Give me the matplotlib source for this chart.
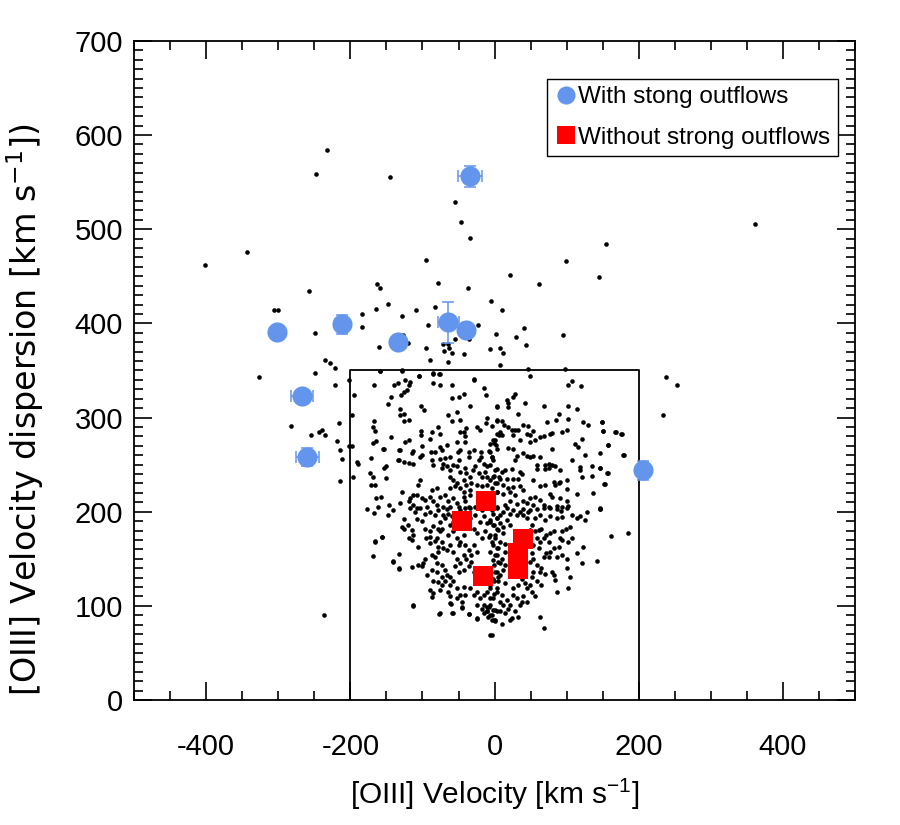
import numpy as np
import matplotlib
matplotlib.use("Agg")
import matplotlib.pyplot as plt
from matplotlib.ticker import MultipleLocator

plt.rcParams['font.family'] = ['Liberation Sans', 'DejaVu Sans']
plt.rcParams['mathtext.default'] = 'regular'
plt.rcParams['axes.unicode_minus'] = False

# galaxies with strong outflows (velocity, dispersion, errors)
strong_v = [-34, -302, -212, -134, -64, -39, -267, -260, 206]
strong_s = [556, 391, 399, 380, 401, 393, 323, 258, 244]
strong_verr = [17, 4, 10, 4, 14, 4, 15, 16, 4]
strong_serr = [11, 4, 10, 4, 22, 4, 5, 10, 10]

# galaxies without strong outflows
weak_v = [-12, -45, 40, 32, 32, -16]
weak_s = [211, 190, 171, 156, 139, 132]

# selection box
box_x = [-200, -200, 200, 200]
box_y = [0, 350, 350, 0]

# parent sample, outside / edge of the dense cloud
dots_outer = [
    (-232, 584), (-248, 559), (-145, 555), (-55, 529), (-46, 508), (-34, 491), (-343, 476),
    (-402, 462), (-95, 467), (-78, 443), (-163, 442), (-159, 438), (-258, 434), (-37, 438),
    (-148, 421), (-165, 415), (-109, 414), (-83, 417), (-306, 414), (-300, 414), (-184, 410),
    (-128, 408), (-184, 396), (-92, 398), (-249, 390), (-23, 398), (-127, 388), (-120, 379),
    (-160, 375), (-95, 374), (-71, 378), (-65, 378), (-70, 371), (-63, 374), (-59, 369),
    (-55, 383), (-43, 367), (-35, 383), (-89, 361), (-64, 359), (-235, 361), (-228, 358),
    (-222, 353), (-327, 343), (-249, 347), (-159, 349), (-129, 350), (-105, 344), (-86, 347),
    (-77, 346), (-29, 341),
    (155, 484), (99, 466), (145, 449), (22, 451), (61, 442), (-5, 424), (11, 414), (2, 389),
    (41, 395), (30, 386), (43, 377), (95, 388), (-7, 373), (8, 374), (12, 369), (8, 356),
    (47, 351), (98, 351), (238, 343),
    (361, 505), (253, 335), (234, 303), (185, 177), (162, 174), (178, 260), (157, 241),
    (152, 229), (157, 271), (168, 285), (176, 283), (149, 295), (150, 286), (146, 246), (146, 203),
    (-221, 334), (-202, 340), (-195, 324), (-282, 291), (-254, 281), (-243, 285), (-240, 287),
    (-235, 281), (-216, 294), (-219, 275), (-214, 266), (-211, 256), (-214, 233), (-236, 90),
    (-202, 270), (-198, 270), (-198, 303), (-196, 237),
    (-167, 334), (-140, 335), (-134, 337), (-144, 322), (-148, 314), (-131, 303), (-167, 296),
    (-168, 290), (-166, 286), (-143, 279), (-168, 273), (-165, 275), (-155, 267), (-133, 265),
    (-134, 255), (-172, 257), (-191, 253), (-190, 251), (-151, 249), (-153, 246), (-173, 241),
    (-168, 237), (-150, 236), (-171, 228), (-166, 228), (-164, 214), (-158, 216), (-177, 203),
    (-167, 199), (-148, 197), (-141, 202), (-166, 168), (-156, 173), (-168, 153), (-141, 147),
    (-133, 155), (-132, 139),
    (-113, 100), (-77, 91), (-60, 102), (-58, 92), (-45, 98), (-36, 91), (-25, 86), (-6, 69),
    (-15, 92), (-11, 94), (-11, 99), (-2, 96), (4, 94), (-9, 88), (-4, 85), (1, 84),
]

# upper-left part of the cloud
dots_ul = [
    (-159, 349), (-129, 349), (-105, 344), (-86, 346), (-76, 346), (-124, 340), (-117, 338),
    (-119, 334), (-122, 329), (-125, 327), (-130, 324), (-85, 337), (-76, 334), (-59, 335),
    (-29, 340), (-14, 331), (-12, 324), (-42, 325), (-50, 322), (-59, 321), (-34, 312),
    (-102, 312), (-98, 308), (-131, 309), (-125, 304), (-126, 296), (-118, 297),
    (-87, 285), (-102, 286), (-102, 281), (-78, 290), (-89, 277), (-76, 282), (-52, 306),
    (-64, 303), (-48, 297), (-59, 296), (-43, 285), (-39, 289), (-48, 285), (-41, 280),
    (-41, 274), (-25, 290), (-20, 287), (-12, 294), (-10, 299), (3, 312), (4, 296), (0, 276),
    (2, 271), (-6, 272), (-8, 264), (-4, 258), (6, 281), (-154, 267), (-118, 276), (-124, 274),
    (-131, 266), (-113, 264), (-114, 262), (-101, 270), (-100, 260), (-103, 258), (-88, 263),
    (-82, 263), (-76, 269), (-73, 266), (-66, 271), (-52, 274), (-48, 266), (-51, 263),
    (-36, 263), (-36, 258), (-29, 266), (-19, 263), (-19, 258), (-22, 255), (-15, 251),
    (-10, 248), (-6, 250), (1, 244), (6, 237), (-132, 255), (-126, 253), (-119, 252),
    (-113, 251), (-103, 234), (-106, 228), (-87, 255), (-85, 250), (-75, 256), (-69, 257),
    (-62, 258), (-71, 251), (-66, 248), (-73, 246), (-62, 244), (-57, 250), (-50, 255),
    (-52, 248), (-48, 242), (-41, 246), (-39, 241), (-34, 237), (-30, 244), (-27, 248),
    (-22, 241), (-18, 237), (-13, 242), (-11, 237), (-6, 234), (-1, 238), (3, 230), (-62, 237),
    (-57, 234), (-52, 230), (-43, 234), (-39, 228), (-32, 230), (-25, 228), (-18, 227),
    (-11, 228), (-4, 225), (3, 221), (-48, 225), (-43, 221), (-34, 223), (-62, 225), (-55, 227),
    (-129, 221), (-117, 215), (-113, 218), (-108, 218), (-101, 214), (-96, 212), (-89, 216),
    (-85, 211), (-80, 225), (-87, 223), (-75, 216), (-69, 218), (-64, 211), (-57, 214),
    (-52, 209), (-43, 216), (-41, 211), (-36, 205), (-34, 218), (-131, 209), (-119, 211),
    (-113, 207), (-108, 204), (-94, 205), (-80, 207), (-71, 205), (-62, 205), (-50, 205),
    (-161, 205), (-147, 207),
]

# upper-right part of the cloud
dots_ur = [
    (49, 344), (107, 339), (102, 334), (120, 333), (28, 325), (25, 322), (17, 319), (18, 315),
    (18, 311), (4, 311), (42, 315), (68, 312), (102, 312), (115, 309), (90, 304), (32, 304),
    (85, 297), (102, 298), (123, 295), (130, 292), (149, 295), (73, 295), (4, 297), (11, 296),
    (13, 292), (-4, 291), (19, 290), (24, 287), (28, 287), (32, 287), (40, 292), (47, 291),
    (54, 286), (45, 283), (49, 281), (3, 283), (8, 285), (10, 281), (25, 281), (69, 280),
    (77, 283), (79, 284), (93, 285), (100, 287), (150, 286), (167, 285), (177, 283), (63, 279),
    (35, 276), (49, 274), (56, 276), (-2, 276), (-1, 273), (112, 272), (116, 269), (121, 277),
    (158, 271), (19, 268), (26, 267), (3, 267), (79, 267), (40, 262), (45, 259), (49, 258),
    (54, 259), (63, 258), (31, 259), (28, 255), (-6, 263), (-4, 258), (-2, 255), (107, 255),
    (126, 260), (146, 262), (179, 260), (59, 250), (70, 250), (75, 251), (79, 250), (84, 248),
    (59, 245), (70, 245), (75, 246), (91, 244), (119, 247), (119, 244), (135, 249), (146, 246),
    (122, 237), (135, 238), (156, 241), (3, 245), (10, 242), (15, 244), (24, 245), (35, 242),
    (38, 240), (-2, 237), (8, 235), (17, 235), (26, 235), (33, 235), (54, 234), (63, 227),
    (70, 228), (82, 232), (84, 228), (89, 230), (91, 232), (100, 234), (153, 229), (100, 224),
    (1, 230), (12, 228), (19, 225), (26, 226), (35, 227), (40, 223), (3, 221), (12, 219),
    (22, 221), (28, 218), (49, 214), (56, 216), (63, 212), (77, 219), (79, 216), (91, 214),
    (100, 211), (115, 219), (137, 220), (45, 209), (54, 207), (68, 207), (75, 205), (86, 206),
    (93, 205), (102, 206), (22, 211), (31, 208), (40, 211), (3, 205), (15, 207), (146, 204),
]

# lower-left part of the cloud
dots_ll = [
    (-126, 192), (-129, 184), (-126, 182), (-117, 204), (-110, 200), (-103, 204), (-96, 198),
    (-89, 200), (-83, 197), (-78, 202), (-71, 196), (-66, 203), (-108, 192), (-101, 190),
    (-120, 186), (-115, 181), (-97, 182), (-89, 179), (-90, 173), (-85, 185), (-79, 182),
    (-75, 179), (-73, 182), (-166, 169), (-156, 173), (-141, 148), (-132, 140), (-118, 172),
    (-115, 170), (-113, 175), (-106, 162), (-95, 172), (-90, 167), (-83, 169), (-87, 154),
    (-82, 152), (-79, 157), (-96, 150), (-99, 145), (-115, 141), (-106, 143), (-100, 142),
    (-94, 133), (-85, 126), (-79, 125), (-90, 117), (-86, 114), (-87, 109), (-75, 117),
    (-113, 101), (-76, 92), (-80, 145), (-73, 143), (-69, 138), (-66, 133), (-62, 131),
    (-71, 161), (-66, 159), (-62, 165), (-57, 157), (-62, 186), (-57, 189), (-59, 195),
    (-64, 198), (-52, 172), (-48, 168), (-43, 175), (-50, 165), (-41, 165), (-36, 159),
    (-43, 154), (-39, 150), (-32, 154), (-52, 150), (-48, 145), (-55, 142), (-50, 136),
    (-43, 138), (-36, 142), (-32, 147), (-29, 136), (-62, 122), (-57, 126), (-52, 119),
    (-48, 111), (-43, 120), (-62, 103), (-59, 92), (-45, 99), (-36, 91), (-34, 119), (-29, 111),
    (-25, 115), (-20, 108), (-15, 111), (-11, 115), (-6, 108), (-1, 113), (3, 119), (-25, 101),
    (-18, 97), (-11, 94), (-6, 90), (-1, 85), (-25, 87), (-34, 193), (-27, 196), (-20, 189),
    (-15, 195), (-11, 188), (-6, 191), (-1, 186), (3, 193), (-29, 182), (-25, 177), (-18, 172),
    (-13, 179), (-8, 173), (-4, 168), (1, 175), (5, 181), (-29, 165), (-25, 157), (3, 161),
    (1, 154), (5, 147), (-1, 143), (3, 136), (5, 131), (-1, 126), (-6, 122), (-34, 204),
    (-27, 205), (-18, 202), (-11, 205), (-4, 202), (3, 204), (-41, 204), (-48, 202), (-75, 189),
    (-69, 193), (-64, 175), (-57, 179), (-80, 172), (-78, 163), (-73, 168), (-87, 138),
    (-80, 136), (-73, 131), (-69, 126), (-64, 115), (-62, 110), (-73, 122), (-52, 108),
    (-45, 104), (-41, 111), (-15, 101), (-8, 99),
]

# lower-right part of the cloud
dots_lr = [
    (146, 203), (123, 163), (142, 148), (122, 146), (114, 156), (105, 131), (101, 140),
    (102, 119), (86, 115), (63, 88), (69, 76), (33, 88), (22, 85), (24, 87), (128, 200),
    (126, 191), (119, 195), (107, 196), (114, 193), (105, 184), (99, 182), (93, 179), (91, 172),
    (93, 170), (107, 172), (102, 168), (82, 179), (77, 177), (72, 175), (68, 172), (75, 168),
    (89, 162), (82, 161), (93, 154), (100, 150), (86, 152), (77, 157), (72, 156), (68, 152),
    (75, 152), (61, 161), (54, 165), (63, 168), (59, 172), (56, 179), (61, 181), (65, 182),
    (100, 204), (92, 201), (86, 203), (77, 204), (68, 204), (59, 203), (49, 202), (40, 203),
    (86, 193), (93, 194), (77, 195), (70, 191), (63, 196), (56, 193), (59, 143), (65, 140),
    (63, 136), (70, 134), (79, 136), (82, 133), (84, 127), (54, 136), (52, 131), (59, 126),
    (65, 122), (49, 122), (45, 119), (52, 115), (56, 110), (40, 110), (45, 104), (35, 101),
    (38, 104), (31, 108), (26, 111), (12, 101), (19, 97), (8, 94), (1, 96), (-4, 90), (28, 94),
    (15, 92), (42, 124), (38, 129), (33, 122), (26, 119), (49, 147), (52, 156), (54, 150),
    (49, 181), (52, 186), (45, 193), (40, 196), (47, 200), (-6, 204), (-2, 198), (3, 193),
    (8, 196), (12, 200), (17, 204), (22, 198), (26, 202), (31, 196), (35, 200), (-6, 189),
    (-2, 186), (3, 182), (8, 188), (12, 184), (17, 191), (22, 186), (-6, 175), (1, 172),
    (8, 168), (12, 177), (-2, 165), (5, 161), (15, 166), (-6, 157), (3, 154), (10, 150),
    (15, 157), (-2, 149), (8, 145), (15, 143), (-6, 140), (1, 136), (8, 133), (12, 138),
    (-2, 129), (5, 126), (15, 124), (-6, 119), (3, 115), (10, 111), (-2, 108), (8, 104),
    (17, 106), (22, 101), (-6, 101), (1, 85), (10, 81), (-4, 69),
]

dots = np.array(dots_outer + dots_ul + dots_ur + dots_ll + dots_lr)

blue = '#6495ED'

fig = plt.figure(figsize=(9, 8.25), dpi=100)
ax = fig.add_axes([0.149, 0.1515, 0.801, 0.799])

ax.plot(dots[:, 0], dots[:, 1], 'o', color='black', ms=3.3, mew=0, zorder=2)
ax.plot(box_x, box_y, color='black', lw=1.3, zorder=1)

ax.errorbar(strong_v, strong_s, xerr=strong_verr, yerr=strong_serr, fmt='none',
            ecolor=blue, elinewidth=1.1, capsize=4, capthick=1.1, zorder=3)
ax.plot(strong_v, strong_s, 'o', color=blue, ms=14.5, mew=0, zorder=4,
        label='With stong outflows')
ax.plot(weak_v, weak_s, 's', color='red', ms=14.5, mew=0, zorder=5,
        label='Without strong outflows')

ax.set_xlim(-500, 500)
ax.set_ylim(0, 700)
ax.xaxis.set_major_locator(MultipleLocator(200))
ax.xaxis.set_minor_locator(MultipleLocator(50))
ax.yaxis.set_major_locator(MultipleLocator(100))
ax.yaxis.set_minor_locator(MultipleLocator(10))
ax.tick_params(which='both', direction='in', top=True, right=True, width=1.2,
               labelsize=21)
ax.tick_params(axis='x', pad=24)
ax.tick_params(axis='y', pad=8)
ax.tick_params(which='major', length=13)
ax.tick_params(which='minor', length=6.5)
for s in ax.spines.values():
    s.set_linewidth(1.3)

# end labels of the y axis sit inside the axis range, as in the original
ylabels = ax.get_yticklabels()
ylabels[0].set_va('bottom')
ylabels[-1].set_va('top')

ax.set_xlabel(r'[OIII] Velocity [km s$^{-1}$]', fontsize=21.5)
ax.xaxis.set_label_coords(0.5, -0.116)
ax.set_ylabel(r'[OIII] Velocity dispersion [km s$^{-1}$])', fontsize=24,
              family='DejaVu Sans')
ax.yaxis.set_label_coords(-0.122, 0.44)

leg = ax.legend(loc='upper right', bbox_to_anchor=(0.976, 0.942), fontsize=17.5,
                frameon=True, fancybox=False, edgecolor='black', framealpha=1,
                handletextpad=0.0, handlelength=1.0, labelspacing=0.75,
                borderpad=0.3, borderaxespad=0, numpoints=1, markerscale=0.9)
leg.get_frame().set_linewidth(1.0)

fig.savefig('out.png', dpi=100)
